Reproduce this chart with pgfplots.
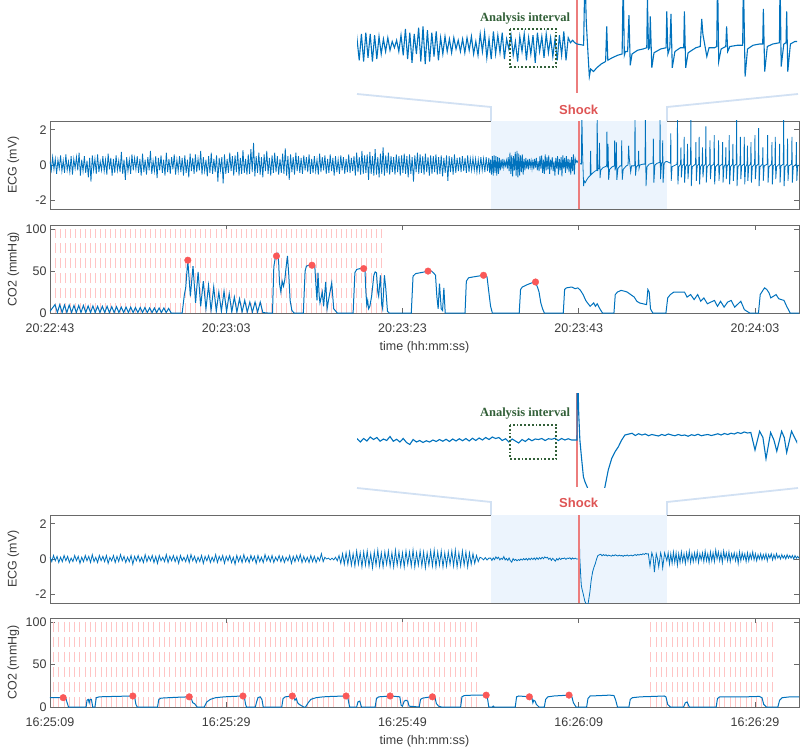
\documentclass[border=0pt]{standalone}
\usepackage{fontspec}
\setmainfont{Liberation Sans}
\newfontfamily\serifb{Liberation Serif}
\usepackage{pgfplots}
\usepackage{pgfplotstable}
\pgfplotsset{compat=1.18}
\definecolor{ecgblue}{RGB}{0,114,189}
\definecolor{shadeblue}{RGB}{236,244,253}
\definecolor{connector}{RGB}{210,225,243}
\definecolor{shockred}{RGB}{236,125,125}
\definecolor{shocktxt}{RGB}{222,84,84}
\definecolor{comppink}{RGB}{255,196,196}
\definecolor{dotred}{RGB}{250,88,88}
\definecolor{agreen}{RGB}{50,96,56}
\definecolor{axisgray}{RGB}{105,105,105}
\definecolor{labgray}{RGB}{60,60,60}
\pgfplotsset{
 base/.style={scale only axis, width=749pt, height=88pt, xmin=0, xmax=85,
  anchor=south west,
  axis line style={axisgray, line width=0.8pt},
  tick style={axisgray, line width=0.8pt}, major tick length=5pt,
  tick align=inside, xtick pos=both, ytick pos=both,
  xticklabel pos=lower, yticklabel pos=left,
  /pgf/number format/assume math mode=true,
  ticklabel style={font=\fontsize{12.5}{14}\selectfont, text=labgray},
  label style={font=\fontsize{12.5}{14}\selectfont, text=labgray},
  clip mode=individual},
 ecg/.style={base, ymin=-2.5, ymax=2.5, ytick={-2,0,2}, yticklabels={-2,0,2}, xtick=\empty,
  ylabel={ECG (mV)}, ylabel style={at={(axis description cs:-0.049,0.5)}, anchor=center}},
 co2/.style={base, ymin=0, ymax=105, ytick={0,50,100}, yticklabels={0,50,100},
  xtick={0,20,40,60,80}, xticklabel style={yshift=-7.5pt},
  ylabel={CO2 (mmHg)}, ylabel style={at={(axis description cs:-0.049,0.5)}, anchor=center},
  xlabel={time (hh:mm:ss)}, xlabel style={at={(axis description cs:0.5,0)}, yshift=-34pt, anchor=center}},
 inset/.style={scale only axis, width=440pt, anchor=south west, xmin=50, xmax=70, hide axis, clip mode=individual},
 ecgline/.style={ecgblue, line width=0.8pt},
 co2line/.style={ecgblue, line width=1pt},
 comp/.style={comppink, line width=1pt, dash pattern=on 10pt off 5pt, ycomb},
 dots/.style={only marks, mark=*, mark size=3.3pt, mark options={draw=dotred, fill=dotred}},
}
\begin{document}
\pgfplotstableread[row sep=\\]{
t v\\
0 0.2\\ 0.15 -0.3\\ 0.3 0.45\\ 0.45 -0.25\\ 0.6 0.35\\ 0.75 -0.5\\ 0.9 0.3\\ 1.05 -0.2\\ 1.2 0.55\\ 1.35 -0.35\\
1.5 0.25\\ 1.65 -0.45\\ 1.8 0.6\\ 1.95 -0.3\\ 2.1 0.2\\ 2.25 -0.4\\ 2.4 0.5\\ 2.55 -0.55\\ 2.7 0.35\\ 2.85 -0.2\\
3 0.45\\ 3.15 -0.3\\ 3.3 0.7\\ 3.45 -0.6\\ 3.6 0.3\\ 3.75 -0.35\\ 3.9 0.5\\ 4.05 -0.45\\ 4.2 0.25\\ 4.35 -0.7\\
4.5 0.4\\ 4.65 -0.95\\ 4.8 0.55\\ 4.95 -0.3\\ 5.1 0.35\\ 5.25 -0.5\\ 5.4 0.6\\ 5.55 -0.4\\ 5.7 0.2\\ 5.85 -0.3\\
6 0.5\\ 6.15 -0.35\\ 6.3 0.3\\ 6.45 -0.55\\ 6.6 0.65\\ 6.75 -0.25\\ 6.9 0.4\\ 7.05 -0.6\\ 7.2 0.35\\ 7.35 -0.45\\
7.5 0.55\\ 7.65 -0.3\\ 7.8 0.25\\ 7.95 -0.4\\ 8.1 0.75\\ 8.25 -0.5\\ 8.4 0.3\\ 8.55 -0.85\\ 8.7 0.45\\ 8.85 -0.35\\
9 0.3\\ 9.15 -0.5\\ 9.3 0.6\\ 9.45 -0.3\\ 9.6 0.4\\ 9.75 -0.25\\ 9.9 0.5\\ 10.05 -0.45\\ 10.2 0.35\\ 10.35 -0.6\\
10.5 0.65\\ 10.65 -0.4\\ 10.8 0.3\\ 10.95 -0.55\\ 11.1 0.45\\ 11.25 -0.3\\ 11.4 0.8\\ 11.55 -0.5\\ 11.7 0.25\\ 11.85 -0.35\\
12 0.5\\ 12.15 -0.75\\ 12.3 0.4\\ 12.45 -0.3\\ 12.6 0.55\\ 12.75 -0.45\\ 12.9 0.3\\ 13.05 -0.6\\ 13.2 0.7\\ 13.35 -0.4\\
13.5 0.35\\ 13.65 -0.5\\ 13.8 0.45\\ 13.95 -0.25\\ 14.1 0.6\\ 14.25 -0.55\\ 14.4 0.3\\ 14.55 -0.35\\ 14.7 0.5\\ 14.85 -0.4\\
15 0.4\\ 15.15 -0.6\\ 15.3 0.55\\ 15.45 -0.45\\ 15.6 0.3\\ 15.75 -0.7\\ 15.9 0.65\\ 16.05 -0.35\\ 16.2 0.4\\ 16.35 -0.5\\
16.5 0.6\\ 16.65 -0.4\\ 16.8 0.35\\ 16.95 -0.3\\ 17.1 0.8\\ 17.25 -0.55\\ 17.4 0.45\\ 17.55 -0.35\\ 17.7 0.3\\ 17.85 -0.65\\
18 0.5\\ 18.15 -0.45\\ 18.3 0.7\\ 18.45 -0.5\\ 18.6 0.35\\ 18.75 -0.4\\ 18.9 0.55\\ 19.05 -0.95\\ 19.2 0.4\\ 19.35 -0.3\\
19.5 0.45\\ 19.65 -1.05\\ 19.8 0.6\\ 19.95 -0.5\\ 20.1 0.35\\ 20.25 -0.45\\ 20.4 0.7\\ 20.55 -0.35\\ 20.7 0.5\\ 20.85 -0.6\\
21 0.55\\ 21.15 -0.4\\ 21.3 0.75\\ 21.45 -0.6\\ 21.6 0.4\\ 21.75 -0.5\\ 21.9 0.85\\ 22.05 -0.45\\ 22.2 0.35\\ 22.35 -0.55\\
22.5 0.6\\ 22.65 -0.5\\ 22.8 0.9\\ 22.95 -0.4\\ 23.1 1.25\\ 23.25 -0.65\\ 23.4 0.5\\ 23.55 -0.45\\ 23.7 0.7\\ 23.85 -0.55\\
24 0.45\\ 24.15 -0.7\\ 24.3 0.6\\ 24.45 -0.35\\ 24.6 0.8\\ 24.75 -0.5\\ 24.9 0.4\\ 25.05 -0.6\\ 25.2 0.55\\ 25.35 -0.45\\
25.5 0.7\\ 25.65 -0.4\\ 25.8 0.5\\ 25.95 -0.55\\ 26.1 0.35\\ 26.25 -0.45\\ 26.4 0.65\\ 26.55 -0.5\\ 26.7 0.95\\ 26.85 -0.6\\
27 0.5\\ 27.15 -0.85\\ 27.3 0.6\\ 27.45 -0.4\\ 27.6 0.45\\ 27.75 -0.55\\ 27.9 0.7\\ 28.05 -0.35\\ 28.2 0.5\\ 28.35 -0.45\\
28.5 0.4\\ 28.65 -0.5\\ 28.8 0.55\\ 28.95 -0.3\\ 29.1 0.45\\ 29.25 -0.4\\ 29.4 0.6\\ 29.55 -0.5\\ 29.7 0.35\\ 29.85 -0.45\\
30 0.5\\ 30.15 -0.35\\ 30.3 0.3\\ 30.45 -0.55\\ 30.6 0.65\\ 30.75 -0.4\\ 30.9 0.45\\ 31.05 -0.3\\ 31.2 0.55\\ 31.35 -0.5\\
31.5 0.35\\ 31.65 -0.45\\ 31.8 0.6\\ 31.95 -0.35\\ 32.1 0.4\\ 32.25 -0.6\\ 32.4 0.5\\ 32.55 -0.4\\ 32.7 0.3\\ 32.85 -0.5\\
33 0.55\\ 33.15 -0.3\\ 33.3 0.45\\ 33.45 -0.5\\ 33.6 0.35\\ 33.75 -0.4\\ 33.9 0.6\\ 34.05 -0.45\\ 34.2 0.4\\ 34.35 -0.35\\
34.5 0.5\\ 34.65 -0.6\\ 34.8 0.7\\ 34.95 -0.4\\ 35.1 0.45\\ 35.25 -0.55\\ 35.4 0.8\\ 35.55 -0.5\\ 35.7 0.55\\ 35.85 -0.45\\
36 0.6\\ 36.15 -0.85\\ 36.3 0.75\\ 36.45 -0.5\\ 36.6 0.5\\ 36.75 -0.6\\ 36.9 0.9\\ 37.05 -0.55\\ 37.2 0.45\\ 37.35 -0.7\\
37.5 0.65\\ 37.65 -0.5\\ 37.8 1.0\\ 37.95 -0.6\\ 38.1 0.55\\ 38.25 -0.45\\ 38.4 0.7\\ 38.55 -0.55\\ 38.7 0.5\\ 38.85 -0.4\\
39 0.45\\ 39.15 -0.55\\ 39.3 0.6\\ 39.45 -0.4\\ 39.6 0.5\\ 39.75 -0.6\\ 39.9 0.55\\ 40.05 -0.45\\ 40.2 0.65\\ 40.35 -0.5\\
40.5 0.5\\ 40.65 -0.7\\ 40.8 0.6\\ 40.95 -0.5\\ 41.1 0.45\\ 41.25 -0.95\\ 41.4 0.55\\ 41.55 -0.4\\ 41.7 0.7\\ 41.85 -0.5\\
42 0.6\\ 42.15 -0.45\\ 42.3 0.5\\ 42.45 -0.55\\ 42.6 0.65\\ 42.75 -0.4\\ 42.9 0.45\\ 43.05 -0.6\\ 43.2 0.55\\ 43.35 -0.5\\
43.5 0.5\\ 43.65 -0.4\\ 43.8 0.6\\ 43.95 -0.55\\ 44.1 0.45\\ 44.25 -0.5\\ 44.4 0.55\\ 44.55 -0.65\\ 44.7 0.4\\ 44.85 -0.45\\
45 0.55\\ 45.15 -0.9\\ 45.3 0.5\\ 45.45 -0.4\\ 45.6 0.45\\ 45.75 -0.55\\ 45.9 0.6\\ 46.05 -0.45\\ 46.2 0.4\\ 46.35 -0.35\\
46.5 0.45\\ 46.65 -0.4\\ 46.8 0.5\\ 46.95 -0.35\\ 47.1 0.4\\ 47.25 -0.45\\ 47.4 0.55\\ 47.55 -0.4\\ 47.7 0.35\\ 47.85 -0.3\\
48 0.4\\ 48.15 -0.3\\ 48.3 0.35\\ 48.45 -0.4\\ 48.6 0.3\\ 48.75 -0.35\\ 48.9 0.45\\ 49.05 -0.3\\ 49.2 0.35\\ 49.35 -0.4\\
49.5 0.45\\ 49.65 -0.35\\ 49.8 0.4\\ 49.9 -0.45\\
50.0 0.3\\ 50.1 -0.55\\ 50.2 0.5\\ 50.3 -0.6\\ 50.4 0.55\\ 50.5 -0.45\\ 50.6 0.5\\ 50.7 -0.6\\ 50.8 0.45\\ 50.9 -0.5\\
51.0 0.4\\ 51.1 -0.3\\ 51.2 0.3\\ 51.3 -0.2\\ 51.4 0.35\\ 51.5 -0.15\\ 51.6 0.2\\ 51.7 -0.05\\ 51.8 0.25\\ 51.9 -0.2\\
52.0 0.45\\ 52.1 -0.35\\ 52.2 0.7\\ 52.3 -0.5\\ 52.4 0.55\\ 52.5 -0.65\\ 52.6 0.5\\ 52.7 -0.3\\ 52.8 0.75\\ 52.9 -0.6\\
53.0 0.8\\ 53.1 -0.7\\ 53.2 0.65\\ 53.3 -0.6\\ 53.4 0.55\\ 53.5 -0.4\\ 53.6 0.6\\ 53.7 -0.55\\ 53.8 0.35\\ 53.9 -0.3\\
54.0 0.4\\ 54.1 -0.2\\ 54.2 0.3\\ 54.3 -0.25\\ 54.4 0.35\\ 54.5 -0.1\\ 54.6 0.25\\ 54.7 -0.2\\ 54.8 0.3\\ 54.9 -0.25\\
55.0 0.35\\ 55.1 -0.15\\ 55.2 0.4\\ 55.3 -0.3\\ 55.4 0.2\\ 55.5 -0.35\\ 55.6 0.5\\ 55.7 -0.2\\ 55.8 0.55\\ 55.9 -0.45\\
56.0 0.3\\ 56.1 -0.5\\ 56.2 0.6\\ 56.3 -0.3\\ 56.4 0.45\\ 56.5 -0.25\\ 56.6 0.55\\ 56.7 -0.5\\ 56.8 0.3\\ 56.9 -0.1\\
57.0 0.45\\ 57.1 -0.35\\ 57.2 0.2\\ 57.3 -0.6\\ 57.4 0.4\\ 57.5 -0.2\\ 57.6 0.5\\ 57.7 -0.55\\ 57.8 0.35\\ 57.9 -0.3\\
58.0 0.45\\ 58.1 -0.65\\ 58.2 0.55\\ 58.3 -0.2\\ 58.4 0.4\\ 58.5 -0.45\\ 58.6 0.5\\ 58.7 -0.25\\ 58.8 0.35\\ 58.9 -0.4\\
59.0 0.3\\ 59.1 -0.55\\ 59.2 0.45\\ 59.3 -0.35\\ 59.4 0.6\\ 59.5 -0.55\\ 59.6 0.35\\ 59.7 0.15\\ 59.8 0.25\\ 59.9 0.15\\
60.0 0.1\\ 60.3 0.05\\ 60.36 3.0\\ 60.42 1.0\\ 60.5 -0.3\\ 60.56 -1.2\\ 60.62 -0.9\\ 60.75 -1.0\\ 60.9 -0.85\\ 61.1 -0.7\\ 61.3 -0.6\\
61.35 0.8\\ 61.4 -0.55\\ 61.6 -0.45\\ 61.85 -0.35\\ 62.05 -0.3\\ 62.1 2.8\\ 62.15 -0.35\\ 62.2 -0.2\\ 62.3 -0.2\\ 62.36 1.25\\ 62.42 -0.75\\
62.5 -0.3\\ 62.75 -0.15\\ 63.0 -0.1\\ 63.17 -0.05\\ 63.2 1.9\\ 63.25 -0.1\\ 63.3 -0.05\\ 63.33 1.2\\ 63.4 -0.85\\ 63.5 -0.25\\ 63.8 -0.1\\
64.05 -0.05\\ 64.08 1.4\\ 64.13 -0.3\\ 64.22 -0.05\\ 64.27 1.3\\ 64.33 -0.85\\ 64.45 -0.2\\ 64.7 -0.05\\ 64.85 -0.05\\ 64.88 1.4\\ 64.94 -0.85\\
65.05 -0.25\\ 65.4 -0.05\\ 65.6 0.0\\ 65.67 1.1\\ 65.72 0.5\\ 65.8 0.1\\ 65.9 -0.4\\ 66.0 -0.05\\ 66.25 -0.05\\ 66.35 0.0\\ 66.39 2.8\\
66.44 -0.6\\ 66.55 -0.1\\ 66.76 0.0\\ 66.8 0.8\\ 66.85 -0.2\\ 66.95 0.0\\ 67.3 0.05\\ 67.53 0.05\\ 67.56 2.8\\ 67.6 0.9\\ 67.64 -1.2\\
67.75 -0.1\\ 68.0 0.05\\ 68.3 0.1\\ 68.44 0.1\\ 68.47 1.5\\ 68.53 -1.0\\ 68.65 0.0\\ 68.9 0.1\\ 69.2 0.15\\ 69.23 2.8\\ 69.28 -0.8\\
69.4 0.1\\ 69.5 0.15\\ 69.53 1.4\\ 69.58 -1.0\\ 69.7 0.1\\ 69.9 0.2\\ 70.0 0.2\\
70.41 0.1\\ 70.45 1.8\\ 70.5 -0.9\\ 70.6 -0.1\\ 71.17 0.05\\ 71.21 2.8\\ 71.26 -1.1\\ 71.36 -0.1\\
71.56 0.05\\ 71.6 1.0\\ 71.65 -0.7\\ 71.75 -0.05\\ 71.93 0.05\\ 71.97 1.6\\ 72.02 -1.0\\ 72.12 -0.1\\
72.31 0.05\\ 72.35 1.2\\ 72.4 -0.8\\ 72.5 -0.05\\ 72.69 0.05\\ 72.73 2.8\\ 72.78 -1.2\\ 72.88 -0.1\\
73.26 0.05\\ 73.3 1.3\\ 73.35 -0.9\\ 73.45 -0.05\\ 73.63 0.05\\ 73.67 1.6\\ 73.72 -1.1\\ 73.82 -0.1\\
74.01 0.05\\ 74.05 1.0\\ 74.1 -0.7\\ 74.2 -0.05\\ 74.39 0.05\\ 74.43 2.2\\ 74.48 -1.0\\ 74.58 -0.1\\
74.86 0.05\\ 74.9 1.4\\ 74.95 -0.8\\ 75.05 -0.05\\ 75.34 0.05\\ 75.38 1.7\\ 75.43 -1.1\\ 75.53 -0.1\\
75.83 0.05\\ 75.87 1.4\\ 75.92 -0.9\\ 76.02 -0.05\\ 76.29 0.05\\ 76.33 1.3\\ 76.38 -1.0\\ 76.48 -0.1\\
76.66 0.05\\ 76.7 1.0\\ 76.75 -0.8\\ 76.85 -0.05\\ 77.04 0.05\\ 77.08 1.7\\ 77.13 -1.1\\ 77.23 -0.1\\
77.46 0.05\\ 77.5 1.2\\ 77.55 -0.9\\ 77.65 -0.05\\ 77.88 0.05\\ 77.92 2.8\\ 77.97 -1.2\\ 78.07 -0.1\\
78.31 0.05\\ 78.35 1.6\\ 78.4 -0.8\\ 78.5 -0.05\\ 78.75 0.05\\ 78.79 1.6\\ 78.84 -1.1\\ 78.94 -0.1\\
79.11 0.05\\ 79.15 1.1\\ 79.2 -0.9\\ 79.3 -0.05\\ 79.51 0.05\\ 79.55 1.3\\ 79.6 -1.0\\ 79.7 -0.1\\
79.96 0.05\\ 80.0 1.7\\ 80.05 -0.8\\ 80.15 -0.05\\ 80.38 0.05\\ 80.42 2.1\\ 80.47 -1.2\\ 80.57 -0.1\\
80.86 0.05\\ 80.9 1.0\\ 80.95 -0.9\\ 81.05 -0.05\\ 81.4 0.05\\ 81.44 1.7\\ 81.49 -1.0\\ 81.59 -0.1\\
81.89 0.05\\ 81.93 1.3\\ 81.98 -1.1\\ 82.08 -0.05\\ 82.27 0.05\\ 82.31 1.6\\ 82.36 -0.8\\ 82.46 -0.1\\
82.76 0.05\\ 82.8 1.2\\ 82.85 -1.0\\ 82.95 -0.05\\ 83.22 0.05\\ 83.26 2.8\\ 83.31 -1.2\\ 83.41 -0.1\\
83.66 0.05\\ 83.7 1.5\\ 83.75 -0.9\\ 83.85 -0.05\\ 84.16 0.05\\ 84.2 1.6\\ 84.25 -1.0\\ 84.35 -0.1\\
84.66 0.05\\ 84.7 1.3\\ 84.75 -0.9\\ 84.85 -0.05\\ 85.2 0.05\\
}\ecgA
\pgfplotstableread[row sep=\\]{
t v\\
0 0.1\\ 0.2 -0.15\\ 0.4 0.2\\ 0.6 -0.1\\ 0.8 0.15\\ 1 -0.2\\ 1.2 0.1\\ 1.4 -0.15\\ 1.6 0.2\\ 1.8 -0.1\\
2 0.15\\ 2.2 -0.2\\ 2.4 0.05\\ 2.6 -0.15\\ 2.8 0.2\\ 3 -0.1\\ 3.2 0.15\\ 3.4 -0.25\\ 3.6 0.1\\ 3.8 -0.15\\
4 0.2\\ 4.2 -0.1\\ 4.4 0.15\\ 4.6 -0.2\\ 4.8 0.25\\ 5 -0.15\\ 5.2 0.1\\ 5.4 -0.2\\ 5.6 0.2\\ 5.8 -0.1\\
6 0.15\\ 6.2 -0.15\\ 6.4 0.2\\ 6.6 -0.25\\ 6.8 0.1\\ 7 -0.1\\ 7.2 0.2\\ 7.4 -0.2\\ 7.6 0.15\\ 7.8 -0.15\\
8 0.25\\ 8.2 -0.1\\ 8.4 0.15\\ 8.6 -0.2\\ 8.8 0.1\\ 9 -0.15\\ 9.2 0.2\\ 9.4 -0.3\\ 9.6 0.15\\ 9.8 -0.1\\
10 0.2\\ 10.2 -0.15\\ 10.4 0.1\\ 10.6 -0.2\\ 10.8 0.25\\ 11 -0.15\\ 11.2 0.15\\ 11.4 -0.1\\ 11.6 0.2\\ 11.8 -0.2\\
12 0.15\\ 12.2 -0.25\\ 12.4 0.2\\ 12.6 -0.1\\ 12.8 0.1\\ 13 -0.15\\ 13.2 0.25\\ 13.4 -0.2\\ 13.6 0.15\\ 13.8 -0.1\\
14 0.2\\ 14.2 -0.15\\ 14.4 0.15\\ 14.6 -0.25\\ 14.8 0.2\\ 15 -0.1\\ 15.2 0.1\\ 15.4 -0.15\\ 15.6 0.2\\ 15.8 -0.2\\
16 0.25\\ 16.2 -0.1\\ 16.4 0.15\\ 16.6 -0.2\\ 16.8 0.1\\ 17 -0.15\\ 17.2 0.2\\ 17.4 -0.25\\ 17.6 0.15\\ 17.8 -0.1\\
18 0.2\\ 18.2 -0.2\\ 18.4 0.1\\ 18.6 -0.15\\ 18.8 0.25\\ 19 -0.2\\ 19.2 0.15\\ 19.4 -0.1\\ 19.6 0.2\\ 19.8 -0.25\\
20 0.15\\ 20.2 -0.1\\ 20.4 0.2\\ 20.6 -0.2\\ 20.8 0.1\\ 21 -0.3\\ 21.2 0.2\\ 21.4 -0.15\\ 21.6 0.15\\ 21.8 -0.2\\
22 0.25\\ 22.2 -0.15\\ 22.4 0.1\\ 22.6 -0.2\\ 22.8 0.2\\ 23 -0.1\\ 23.2 0.15\\ 23.4 -0.25\\ 23.6 0.2\\ 23.8 -0.15\\
24 0.1\\ 24.2 -0.2\\ 24.4 0.25\\ 24.6 -0.1\\ 24.8 0.15\\ 25 -0.15\\ 25.2 0.2\\ 25.4 -0.2\\ 25.6 0.1\\ 25.8 -0.1\\
26 0.2\\ 26.2 -0.15\\ 26.4 0.15\\ 26.6 -0.2\\ 26.8 0.1\\ 27 -0.1\\ 27.2 0.2\\ 27.4 -0.25\\ 27.6 0.15\\ 27.8 -0.15\\
28 0.2\\ 28.2 -0.1\\ 28.4 0.25\\ 28.6 -0.2\\ 28.8 0.15\\ 29 -0.15\\ 29.2 0.1\\ 29.4 -0.2\\ 29.6 0.2\\ 29.8 -0.15\\
30 0.15\\ 30.2 -0.2\\ 30.4 0.1\\ 30.6 -0.1\\ 30.8 0.3\\ 31 -0.15\\ 31.2 0.1\\ 31.4 0.0\\ 31.6 0.05\\ 31.8 -0.05\\
32 0.05\\ 32.2 -0.05\\ 32.4 0.1\\ 32.6 -0.1\\ 32.8 0.2\\ 33 -0.25\\ 33.2 0.3\\ 33.4 -0.3\\ 33.6 0.35\\ 33.8 -0.3\\
34 0.4\\ 34.2 -0.35\\ 34.4 0.3\\ 34.6 -0.4\\ 34.8 0.45\\ 35 -0.3\\ 35.2 0.35\\ 35.4 -0.45\\ 35.6 0.4\\ 35.8 -0.35\\
36 0.45\\ 36.2 -0.4\\ 36.4 0.3\\ 36.6 -0.5\\ 36.8 0.4\\ 37 -0.35\\ 37.2 0.5\\ 37.4 -0.4\\ 37.6 0.35\\ 37.8 -0.45\\
38 0.4\\ 38.2 -0.3\\ 38.4 0.45\\ 38.6 -0.4\\ 38.8 0.35\\ 39 -0.45\\ 39.2 0.5\\ 39.4 -0.35\\ 39.6 0.4\\ 39.8 -0.4\\
40 0.35\\ 40.2 -0.45\\ 40.4 0.45\\ 40.6 -0.3\\ 40.8 0.4\\ 41 -0.4\\ 41.2 0.5\\ 41.4 -0.45\\ 41.6 0.35\\ 41.8 -0.35\\
42 0.45\\ 42.2 -0.4\\ 42.4 0.4\\ 42.6 -0.5\\ 42.8 0.35\\ 43 -0.35\\ 43.2 0.45\\ 43.4 -0.4\\ 43.6 0.5\\ 43.8 -0.45\\
44 0.4\\ 44.2 -0.35\\ 44.4 0.45\\ 44.6 -0.45\\ 44.8 0.35\\ 45 -0.4\\ 45.2 0.4\\ 45.4 -0.3\\ 45.6 0.45\\ 45.8 -0.4\\
46 0.5\\ 46.2 -0.45\\ 46.4 0.35\\ 46.6 -0.4\\ 46.8 0.45\\ 47 -0.35\\ 47.2 0.4\\ 47.4 -0.45\\ 47.6 0.35\\ 47.8 -0.3\\
48 0.3\\ 48.2 -0.25\\ 48.4 0.2\\ 48.6 -0.15\\ 48.8 0.1\\ 49.0 0.05\\ 49.2 -0.05\\ 49.4 0.08\\ 49.6 -0.06\\ 49.8 0.05\\
50.0 0.05\\ 50.15 -0.08\\ 50.3 0.06\\ 50.45 -0.04\\ 50.6 0.12\\ 50.75 0.02\\ 50.9 0.1\\ 51.05 -0.05\\ 51.2 0.04\\ 51.35 -0.02\\
51.5 0.14\\ 51.65 -0.05\\ 51.8 0.03\\ 51.95 -0.08\\ 52.1 0.06\\ 52.25 -0.1\\ 52.4 -0.18\\ 52.55 0.02\\ 52.7 -0.08\\ 52.85 -0.02\\
53.0 -0.1\\ 53.15 -0.03\\ 53.3 -0.08\\ 53.45 0.0\\ 53.6 -0.06\\ 53.75 0.02\\ 53.9 -0.05\\ 54.05 0.03\\ 54.2 -0.06\\ 54.35 0.04\\
54.5 -0.04\\ 54.65 0.05\\ 54.8 -0.03\\ 54.95 0.06\\ 55.1 -0.04\\ 55.25 0.07\\ 55.4 -0.02\\ 55.55 0.08\\ 55.7 0.0\\ 55.85 0.1\\
56.0 0.02\\ 56.15 0.12\\ 56.3 0.06\\ 56.45 0.1\\ 56.6 -0.02\\ 56.75 0.05\\ 56.9 -0.08\\ 57.05 0.04\\ 57.2 -0.04\\ 57.35 -0.12\\
57.5 0.02\\ 57.65 -0.06\\ 57.8 0.05\\ 57.95 -0.03\\ 58.1 0.04\\ 58.25 0.02\\ 58.4 0.06\\ 58.55 -0.02\\ 58.7 0.05\\ 58.85 0.03\\
59.0 0.07\\ 59.15 -0.02\\ 59.3 0.06\\ 59.45 0.0\\ 59.6 0.05\\ 59.75 0.0\\ 59.9 0.0\\ 60.0 0.0\\
60.02 3.0\\ 60.08 1.0\\ 60.13 0.0\\ 60.2 -0.67\\ 60.29 -1.47\\ 60.36 -1.67\\ 60.52 -2.0\\ 60.7 -2.4\\ 60.9 -2.6\\ 61.05 -2.6\\
61.2 -2.1\\ 61.27 -1.87\\ 61.42 -1.2\\ 61.58 -0.73\\ 61.73 -0.47\\ 61.88 -0.27\\ 62.03 0.0\\ 62.18 0.2\\ 62.5 0.27\\
62.65 0.18\\ 62.8 0.25\\ 62.95 0.2\\ 63.1 0.24\\ 63.25 0.17\\ 63.4 0.22\\ 63.55 0.19\\ 63.7 0.16\\ 63.85 0.22\\ 64.0 0.18\\
64.15 0.24\\ 64.3 0.2\\ 64.45 0.17\\ 64.6 0.22\\ 64.75 0.18\\ 64.9 0.2\\ 65.05 0.15\\ 65.2 0.21\\ 65.35 0.18\\ 65.5 0.23\\
65.65 0.17\\ 65.8 0.2\\ 65.95 0.22\\ 66.1 0.18\\ 66.25 0.21\\ 66.4 0.25\\ 66.55 0.2\\ 66.7 0.26\\ 66.85 0.22\\ 67.0 0.27\\
67.15 0.24\\ 67.3 0.3\\ 67.45 0.26\\ 67.6 0.32\\ 67.75 0.28\\ 67.9 0.3\\ 68.09 -0.4\\ 68.3 0.35\\ 68.45 0.1\\ 68.59 -0.75\\
68.8 0.3\\ 68.95 0.0\\ 69.08 -0.45\\ 69.3 0.35\\ 69.42 0.1\\ 69.53 -0.5\\ 69.75 0.35\\ 70.0 -0.1\\
70.15 0.35\\ 70.3 -0.3\\ 70.45 0.3\\ 70.6 -0.25\\ 70.75 0.4\\ 70.9 -0.2\\ 71.05 0.35\\ 71.2 -0.35\\ 71.35 0.3\\ 71.5 -0.2\\
71.65 0.4\\ 71.8 -0.15\\ 71.95 0.3\\ 72.1 -0.25\\ 72.25 0.35\\ 72.4 -0.1\\ 72.55 0.45\\ 72.7 -0.2\\ 72.85 0.3\\ 73.0 -0.15\\
73.15 0.35\\ 73.3 -0.1\\ 73.45 0.4\\ 73.6 -0.2\\ 73.75 0.3\\ 73.9 -0.05\\ 74.05 0.35\\ 74.2 -0.15\\ 74.35 0.45\\ 74.5 -0.1\\
74.65 0.3\\ 74.8 -0.2\\ 74.95 0.4\\ 75.1 -0.1\\ 75.25 0.35\\ 75.4 -0.15\\ 75.55 0.5\\ 75.7 0.0\\ 75.85 0.4\\ 76.0 -0.1\\
76.15 0.35\\ 76.3 -0.2\\ 76.45 0.45\\ 76.6 0.0\\ 76.75 0.35\\ 76.9 -0.1\\ 77.05 0.4\\ 77.2 -0.15\\ 77.35 0.3\\ 77.5 0.0\\
77.65 0.35\\ 77.8 -0.1\\ 77.95 0.3\\ 78.1 -0.25\\ 78.25 0.4\\ 78.4 -0.1\\ 78.55 0.35\\ 78.7 0.0\\ 78.85 0.3\\ 79.0 -0.15\\
79.15 0.35\\ 79.3 -0.1\\ 79.45 0.3\\ 79.6 0.0\\ 79.75 0.4\\ 79.9 -0.05\\ 80.05 0.3\\ 80.2 -0.1\\ 80.35 0.25\\ 80.5 0.0\\
80.65 0.3\\ 80.8 -0.05\\ 80.95 0.25\\ 81.1 0.0\\ 81.25 0.3\\ 81.4 -0.1\\ 81.55 0.25\\ 81.7 0.05\\ 81.85 0.3\\ 82.0 -0.05\\
82.15 0.25\\ 82.3 0.0\\ 82.45 0.3\\ 82.6 0.05\\ 82.75 0.2\\ 82.9 0.0\\ 83.05 0.25\\ 83.2 0.05\\ 83.35 0.2\\ 83.5 0.0\\
83.65 0.25\\ 83.8 0.05\\ 83.95 0.2\\ 84.1 0.05\\ 84.25 0.2\\ 84.4 0.0\\ 84.55 0.2\\ 84.7 0.05\\ 84.85 0.15\\ 85.0 0.05\\ 85.2 0.1\\
}\ecgB
\begin{tikzpicture}[x=1pt,y=1pt]
\path[use as bounding box] (0,0) rectangle (800,748);
% ================= TOP PANEL =================
\draw[connector, line width=1.8pt] (357,654) -- (491,641) -- (491,627);
\draw[connector, line width=1.8pt] (798,654) -- (667,641) -- (667,627);
\node[font=\fontsize{13}{15}\selectfont\bfseries, text=shocktxt] at (578.7,638) {Shock};
\node[font=\serifb\fontsize{12.5}{14}\selectfont\bfseries, text=agreen] at (525,729) {Analysis interval};
\begin{axis}[inset, at={(357pt,655pt)}, height=93pt, ymin=-1.86, ymax=1.86]
\draw[shockred, line width=2pt] (axis cs:60,-1.86) -- (axis cs:60,1.86);
\addplot[ecgblue, line width=1.1pt] table[x=t,y=v] {\ecgA};
\draw[agreen, line width=1.8pt, dash pattern=on 1.8pt off 2pt] (axis cs:56.95,0.7) rectangle (axis cs:59.05,-0.82);
\end{axis}
\begin{axis}[ecg, at={(50pt,539pt)}]
\fill[shadeblue] (axis cs:50,-2.5) rectangle (axis cs:70,2.5);
\addplot[ecgline] table[x=t,y=v] {\ecgA};
\draw[shockred, line width=1.8pt] (axis cs:60,-2.5) -- (axis cs:60,2.5);
\end{axis}
\begin{axis}[co2, at={(50pt,435pt)}, xticklabels={20:22:43,20:23:03,20:23:23,20:23:43,20:24:03}]
\addplot[comp] coordinates {(0.60,100)(1.17,100)(1.74,100)(2.31,100)(2.88,100)(3.45,100)(4.02,100)(4.59,100)(5.16,100)(5.73,100)(6.30,100)(6.87,100)(7.44,100)(8.01,100)(8.58,100)(9.15,100)(9.72,100)(10.29,100)(10.86,100)(11.43,100)(12.00,100)(12.57,100)(13.14,100)(13.71,100)(14.28,100)(14.85,100)(15.42,100)(15.99,100)(16.56,100)(17.13,100)(17.70,100)(18.27,100)(18.84,100)(19.41,100)(19.98,100)(20.55,100)(21.12,100)(21.69,100)(22.26,100)(22.83,100)(23.40,100)(23.97,100)(24.54,100)(25.11,100)(25.68,100)(26.25,100)(26.82,100)(27.39,100)(27.96,100)(28.53,100)(29.10,100)(29.67,100)(30.24,100)(30.81,100)(31.38,100)(31.95,100)(32.52,100)(33.09,100)(33.66,100)(34.23,100)(34.80,100)(35.37,100)(35.94,100)(36.51,100)(37.08,100)(37.65,100)};
\addplot[co2line] coordinates {(0,2)(0.57,10)(0.84,0.5)(1.11,10)(1.38,0.5)(1.64,9.5)(1.91,0.5)(2.18,9.5)(2.45,0.5)(2.72,9)(2.99,0.5)(3.26,9)(3.52,0.5)(3.79,9)(4.06,0.5)(4.33,8.5)(4.6,0.5)(4.87,8.5)(5.13,0.5)(5.40,8)(5.67,0.5)(5.94,8)(6.21,0.5)(6.48,8)(6.74,0.5)(7.01,7.5)(7.28,0.5)(7.55,7.5)(7.82,0.5)(8.09,7)(8.36,0.5)(8.63,7)(8.9,0.5)(9.16,7)(9.43,0.5)(9.70,6.5)(9.97,0.5)(10.24,6.5)(10.5,0.5)(10.77,6.5)(11.04,0.5)(11.31,6)(11.58,0.5)(11.85,6)(12.11,0.5)(12.38,6)(12.65,0.5)(12.92,6)(13.19,0.5)(13.46,5.5)(13.75,0)
(15.0,0)(15.25,22)(15.4,30)(15.64,63)(15.93,20)(16.23,56)(16.52,12)(16.81,49)(17.1,8)(17.40,38)(17.7,5)(17.99,33)(18.28,3)(18.58,31)(18.87,2)(19.16,25)(19.45,2)(19.75,26)(20.04,1.5)(20.34,23)(20.63,1)(20.92,19)(21.21,1)(21.51,17)(21.8,1)(22.10,15)(22.39,1)(22.68,13)(22.97,1)(23.27,13)(23.56,1)(23.86,13)(24.15,0.5)(24.7,0)
(25.25,0)(25.4,55)(25.55,65)(25.7,68)(25.85,71)(25.95,60)(26.05,35)(26.2,25)(26.35,38)(26.5,32)(26.65,40)(26.8,55)(26.95,68)(27.1,45)(27.25,15)(27.45,3)(27.7,0)
(28.75,0)(28.95,50)(29.1,56)(29.4,57)(29.73,58)(30.05,56)(30.2,30)(30.3,15)(30.41,48)(30.55,20)(30.64,12)(30.9,25)(31.05,8)(31.29,37)(31.45,5)(31.6,15)(31.97,36)(32.2,5)(32.6,0)
(34.4,0)(34.6,48)(34.8,52)(35.2,53)(35.6,54)(35.75,50)(35.85,25)(35.95,10)(36.05,15)(36.15,5)(36.3,8)(36.5,20)(36.75,45)(36.9,49)(37.05,48)(37.2,25)(37.3,20)(37.5,45)(37.65,10)(37.75,5)(37.95,45)(38.1,30)(38.3,2)(38.5,0)
(41.0,0)(41.2,44)(41.5,47)(42.0,48)(42.5,49)(42.9,50)(43.3,50)(43.6,47)(43.75,45)(43.9,20)(44.05,5)(44.2,35)(44.4,5)(44.55,3)(44.7,30)(44.85,0)
(47.1,0)(47.25,38)(47.5,42)(48.0,43)(48.6,44)(49.2,45)(49.6,43)(49.8,25)(50.0,8)(50.2,0)
(53.25,0)(53.4,28)(53.6,31)(54.2,34)(54.7,36)(55.1,37)(55.2,34)(55.35,30)(55.5,25)(55.7,12)(55.9,5)(56.1,0)
(58.25,0)(58.4,28)(58.6,30)(59.2,31)(59.6,29)(59.9,30)(60.2,27)(60.5,22)(60.8,15)(61.0,12)(61.3,8)(61.5,10)(61.7,12)(61.9,8)(62.1,11)(62.4,5)(62.7,0)
(64.0,0)(64.15,22)(64.4,25)(64.8,27)(65.2,26)(65.5,25)(65.9,22)(66.3,19)(66.6,14)(66.9,12)(67.3,11)(67.7,10)(67.85,28)(68.0,25)(68.15,5)(68.4,0)
(69.9,0)(70.1,18)(70.4,22)(70.8,25)(71.4,25)(72.0,25)(72.3,19)(72.7,22)(73.1,16)(73.5,22)(73.85,14)(74.2,18)(74.6,11)(75.0,13)(75.4,15)(75.75,8)(76.1,14)(76.5,7)(76.9,13)(77.3,15)(77.7,7)(78.0,10)(78.4,14)(78.8,4)(79.1,2)(79.4,0)
(80.4,0)(80.6,22)(80.9,27)(81.1,30)(81.35,28)(81.6,24)(81.8,18)(82.1,20)(82.4,22)(82.7,17)(83.0,16)(83.3,15)(83.6,8)(84.0,0)(85.2,0)};
\addplot[dots] coordinates {(15.64,63)(25.7,68)(29.73,57)(35.6,53)(42.9,50)(49.2,45)(55.1,37)};
\end{axis}
% ================= BOTTOM PANEL =================
\draw[connector, line width=1.8pt] (357,260) -- (491,246) -- (491,233);
\draw[connector, line width=1.8pt] (798,260) -- (667,246) -- (667,233);
\node[font=\fontsize{13}{15}\selectfont\bfseries, text=shocktxt] at (578.7,245) {Shock};
\node[font=\serifb\fontsize{12.5}{14}\selectfont\bfseries, text=agreen] at (525,334) {Analysis interval};
\begin{axis}[inset, at={(357pt,261pt)}, height=94pt, ymin=-1.88, ymax=1.88]
\draw[shockred, line width=2pt] (axis cs:60,-1.88) -- (axis cs:60,1.88);
\addplot[ecgblue, line width=1.1pt] table[x=t,y=v] {\ecgB};
\draw[agreen, line width=1.8pt, dash pattern=on 1.8pt off 2pt] (axis cs:56.95,0.6) rectangle (axis cs:59.05,-0.76);
\end{axis}
\begin{axis}[ecg, at={(50pt,145pt)}]
\fill[shadeblue] (axis cs:50,-2.5) rectangle (axis cs:70,2.5);
\addplot[ecgline] table[x=t,y=v] {\ecgB};
\draw[shockred, line width=1.8pt] (axis cs:60,-2.5) -- (axis cs:60,2.5);
\end{axis}
\begin{axis}[co2, at={(50pt,41pt)}, height=89pt, xticklabels={16:25:09,16:25:29,16:25:49,16:26:09,16:26:29}]
\addplot[comp] coordinates {(0.4,100)(1.0,100)(1.6,100)(2.2,100)(2.8,100)(3.4,100)(4.0,100)(4.6,100)(5.2,100)(5.8,100)(6.4,100)(7.0,100)(7.6,100)(8.2,100)(8.8,100)(9.4,100)(10.0,100)(10.6,100)(11.2,100)(11.8,100)(12.4,100)(13.0,100)(13.6,100)(14.2,100)(14.8,100)(15.4,100)(16.0,100)(16.6,100)(17.2,100)(17.8,100)(18.4,100)(19.0,100)(19.6,100)(20.2,100)(20.8,100)(21.4,100)(22.0,100)(22.6,100)(23.2,100)(23.8,100)(24.4,100)(25.0,100)(25.6,100)(26.2,100)(26.8,100)(27.4,100)(28.0,100)(28.6,100)(29.2,100)(29.8,100)(30.4,100)(31.0,100)(31.6,100)(32.2,100)
(33.4,100)(34.0,100)(34.6,100)(35.2,100)(35.8,100)(36.4,100)(37.0,100)(37.6,100)(38.2,100)(38.8,100)(39.4,100)(40.0,100)(40.6,100)(41.2,100)(41.8,100)(42.4,100)(43.0,100)(43.6,100)(44.2,100)(44.8,100)(45.4,100)(46.0,100)(46.6,100)(47.2,100)(47.8,100)(48.4,100)
(68.2,100)(68.8,100)(69.4,100)(70.0,100)(70.6,100)(71.2,100)(71.8,100)(72.4,100)(73.0,100)(73.6,100)(74.2,100)(74.8,100)(75.4,100)(76.0,100)(76.6,100)(77.2,100)(77.8,100)(78.4,100)(79.0,100)(79.6,100)(80.2,100)(80.8,100)(81.4,100)(82.0,100)};
\addplot[co2line] coordinates {(0,11)(0.5,11)(1.0,11)(1.5,11)(1.8,10)(1.95,5)(2.1,0)
(4.1,0)(4.2,8)(4.35,9)(4.45,5)(4.55,9)(4.7,9)(4.85,0)(5.1,0)(5.25,11)(5.6,12)(6.5,12.3)(7.5,12.5)(8.5,12.8)(9.4,13)(9.6,12)(9.75,3)(9.9,0)
(12.2,0)(12.35,9)(12.6,10.5)(13.5,11)(14.5,11.5)(15.8,12)(16.0,11)(16.2,5)(16.4,4)(16.7,0)
(17.5,0)(17.8,6)(18.2,9)(18.8,11)(19.8,12)(20.8,12.5)(21.9,13)(22.05,12)(22.2,3)(22.3,0)
(23.3,0)(23.45,6)(23.6,11)(23.85,12)(24.05,9)(24.2,0)
(26.3,0)(26.45,10)(26.7,12)(27.1,12.5)(27.5,13)(27.7,11)(27.8,8)(27.95,10)(28.1,5)(28.3,3)(28.8,0)
(29.0,0)(29.3,5)(29.6,9)(30.2,11)(31.0,12)(32.0,12.5)(33.6,13)(33.8,11)(34.0,0)
(34.8,0)(34.95,6)(35.15,7)(35.35,0)
(36.9,0)(37.05,10)(37.3,12)(38.0,12.5)(38.6,13)(39.2,12.5)(39.7,12)(39.85,2)(40.0,1)(40.2,7)(40.4,8)(40.6,7)(40.75,1)(41.9,0)(42.05,9)(42.3,10.5)(42.9,11.5)(43.4,12)(43.7,11)(43.85,4)(44.1,1)(44.4,0)
(46.6,0)(46.75,12)(47.0,13.5)(48.0,14)(49.0,14)(49.5,14)(49.65,10)(49.8,0)(50.2,0)(50.3,1)(50.4,0)
(52.8,0)(52.95,12)(53.2,13)(53.8,12.5)(54.5,12)(54.7,10)(54.8,5)(54.9,8)(55.05,7)(55.2,3)(55.5,0)
(56.1,0)(56.25,9)(56.5,12)(57.2,13)(58.0,13.5)(58.9,14)(59.2,13)(59.4,5)(59.7,0)
(60.9,0)(61.05,10)(61.3,13)(62.5,13.5)(63.5,14)(64.0,13.5)(64.2,8)(64.4,0)
(65.7,0)(65.85,9)(66.1,11)(67.0,12)(68.5,12.5)(69.7,13)(69.9,12)(70.1,3)(70.4,0)
(71.9,0)(72.1,5)(72.3,6)(72.55,0)
(75.6,0)(75.75,10)(76.0,12)(77.5,12)(79.0,12)(80.5,12.5)(80.8,11)(81.0,3)(81.3,0)
(82.6,0)(82.8,8)(83.1,11)(84.0,12)(85.2,12)};
\addplot[dots] coordinates {(1.5,11)(9.4,13)(15.8,12)(21.9,13)(27.5,13)(33.6,13)(38.6,13)(43.4,12)(49.5,14)(54.4,12)(58.9,14)};
\end{axis}
\end{tikzpicture}
\end{document}
